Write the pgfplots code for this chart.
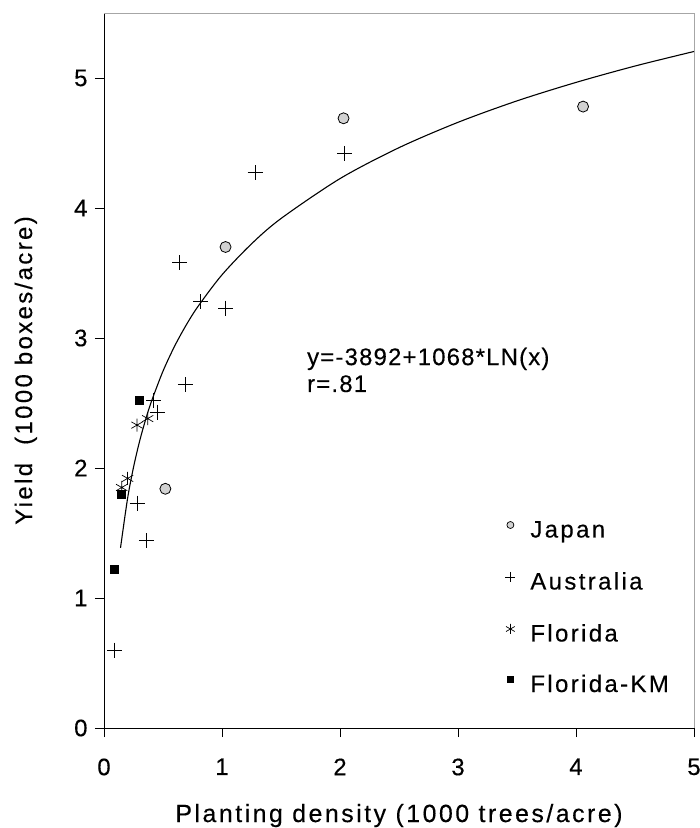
\documentclass[border=0pt]{standalone}
\usepackage{fontspec}
\setmainfont{Liberation Sans}
\newfontfamily\spaced[LetterSpace=10,FakeBold=0.3]{Liberation Sans}
\newfontfamily\eqfont[LetterSpace=5,FakeBold=0.3]{Liberation Sans}
\usepackage{pgfplots}
\pgfplotsset{compat=1.18}
\usetikzlibrary{calc}

\pgfplotstableread{
x y
0.52 1.84
1.03 3.70
2.03 4.69
4.06 4.78
}\japan
\pgfplotstableread{
x y
0.09 0.60
0.36 1.44
0.28 1.73
0.42 2.52
0.45 2.43
0.69 2.64
0.82 3.28
1.03 3.23
0.64 3.58
1.28 4.27
2.04 4.42
}\australia
\pgfplotstableread{
x y
0.15 1.85
0.20 1.92
0.28 2.33
0.37 2.38
}\florida
\pgfplotstableread{
x y
0.09 1.22
0.15 1.80
0.30 2.52
}\floridakm

\begin{document}
\begin{tikzpicture}
\begin{axis}[name=ax,
  scale only axis, width=590bp, height=715bp,
  xmin=0, xmax=5, ymin=0, ymax=5.5,
  clip=false,
  axis lines*=left,
  axis line style={-, black, line width=0.9bp},
  xtick={0,1,2,3,4,5}, ytick={0,1,2,3,4,5},
  tick align=outside, major tick length=9bp,
  tick style={black, line width=0.8bp},
  /pgf/number format/assume math mode=true,
  ticklabel style={font=\spaced\fontsize{24}{28}\selectfont},
  xticklabel style={yshift=-18bp},
  yticklabel style={xshift=-4bp},
  xlabel={Planting density (1000 trees/acre)},
  ylabel={Yield\ \ (1000 boxes/acre)},
  xlabel style={font=\spaced\fontsize{25}{29}\selectfont, at={(axis description cs:0.5,-0.1315)}, anchor=base},
  ylabel style={font=\spaced\fontsize{24}{28}\selectfont, at={(axis description cs:-0.122,0.5)}, anchor=base},
  legend cell align=left,
  legend image post style={yshift=7bp},
  legend style={at={(axis cs:3.40,1.59)}, anchor=north west, draw=none, fill=none,
    inner sep=0pt, row sep=29.5bp,
    nodes={inner sep=0pt, text height=16bp, text depth=5bp},
    font=\spaced\fontsize{24}{28}\selectfont,
    /tikz/every odd column/.append style={column sep=15bp}},
]
\draw[gray!70, line width=0.6bp] (rel axis cs:0,1) -- (rel axis cs:1,1) -- (rel axis cs:1,0);

\addplot[black, line width=1.1bp, smooth, forget plot] coordinates {
(0.14,1.386) (0.2,1.767) (0.25,2.005) (0.3,2.200) (0.35,2.364) (0.4,2.507)
(0.5,2.745) (0.6,2.940) (0.7,3.105) (0.8,3.247) (1.0,3.486) (1.25,3.724)
(1.5,3.919) (2.0,4.226) (2.5,4.464) (3.0,4.659) (3.5,4.824) (4.0,4.966)
(4.5,5.092) (5.0,5.204)};

\addplot[only marks, mark=*, mark size=5.5bp, mark options={fill=gray!35, draw=black, line width=0.8bp}, forget plot] table {\japan};
\addplot[only marks, mark=+, mark size=7.5bp, mark options={black, line width=0.8bp}, forget plot] table {\australia};
\addplot[only marks, mark=asterisk, mark size=6.5bp, mark options={black, line width=0.7bp}, forget plot] table {\florida};
\addplot[only marks, mark=square*, mark size=4bp, mark options={black}, forget plot] table {\floridakm};

\addlegendimage{only marks, mark=*, mark size=3.5bp, mark options={fill=gray!35, draw=black, line width=0.7bp}}
\addlegendentry{Japan}
\addlegendimage{only marks, mark=+, mark size=5bp, mark options={black, line width=0.7bp}}
\addlegendentry{Australia}
\addlegendimage{only marks, mark=asterisk, mark size=5bp, mark options={black, line width=0.7bp}}
\addlegendentry{Florida}
\addlegendimage{only marks, mark=square*, mark size=3bp, mark options={black}}
\addlegendentry{Florida-KM}

\node[anchor=west, align=left, inner sep=0pt, font=\eqfont\fontsize{24}{27}\selectfont] at (axis cs:1.72,2.754) {y=-3892+1068*LN(x)\\r=.81};
\end{axis}
\pgfresetboundingbox
\path ($(ax.south west)+(-104bp,-100bp)$) rectangle ($(ax.north east)+(6bp,13bp)$);
\end{tikzpicture}
\end{document}
